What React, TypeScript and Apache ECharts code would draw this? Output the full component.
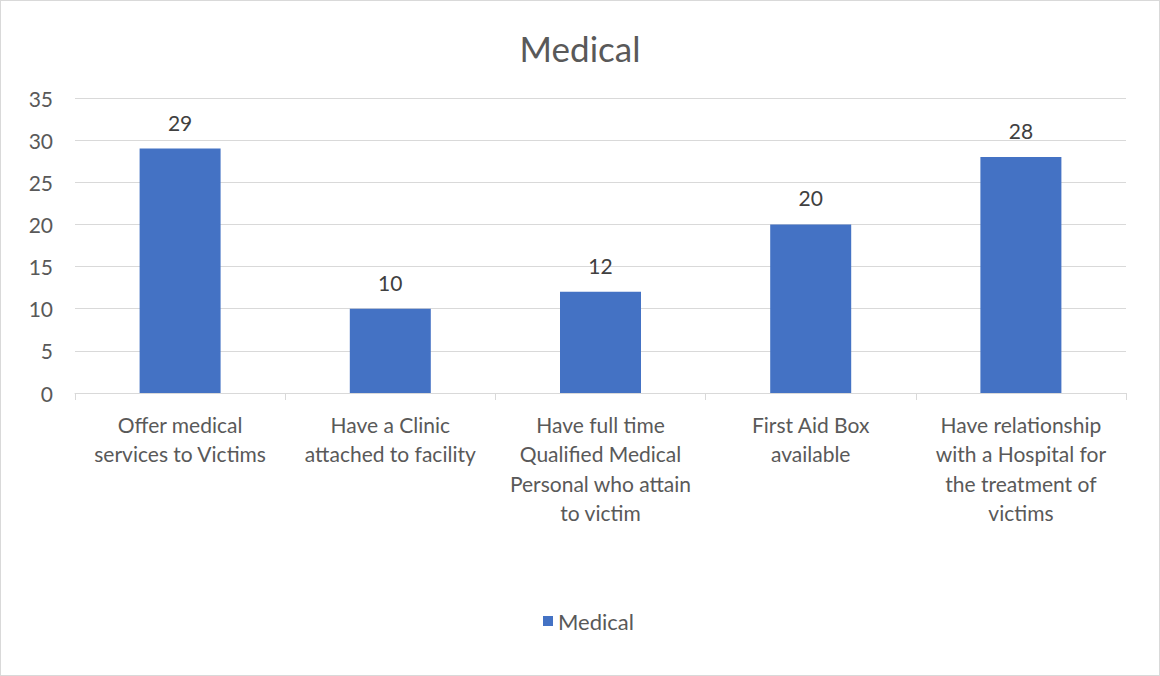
import React, { useEffect, useRef } from "react";
import * as echarts from "echarts";

const categories = [
  "Offer medical\nservices to Victims",
  "Have a Clinic\nattached to facility",
  "Have full time\nQualified Medical\nPersonal who attain\nto victim",
  "First Aid Box\navailable",
  "Have relationship\nwith a Hospital for\nthe treatment of\nvictims",
];
const medicalValues = [29, 10, 12, 20, 28];
const seriesName = "Medical";
const chartTitle = "Medical";

const FONT = "Lato, 'Open Sans', sans-serif";
const TEXT = "#595959";

export default function App() {
  const ref = useRef<HTMLDivElement>(null);

  useEffect(() => {
    document.body.style.margin = "0";
    if (!ref.current) return;
    const chart = echarts.init(ref.current, undefined, { renderer: "svg" });
    chart.setOption({
      animation: false,
      backgroundColor: "#ffffff",
      title: {
        text: chartTitle,
        left: "center",
        top: 24,
        textStyle: { fontFamily: FONT, fontSize: 35, fontWeight: "normal", color: TEXT },
      },
      legend: {
        data: [seriesName],
        bottom: 38,
        left: 537,
        icon: "rect",
        itemWidth: 10,
        itemHeight: 10,
        itemGap: 9,
        textStyle: { fontFamily: FONT, fontSize: 22, color: TEXT },
      },
      grid: { left: 74, right: 33, top: 97, bottom: 282, containLabel: false },
      xAxis: {
        type: "category",
        data: categories,
        axisLine: { lineStyle: { color: "#d9d9d9", width: 1 } },
        axisTick: { show: true, length: 7, lineStyle: { color: "#d9d9d9" } },
        axisLabel: {
          interval: 0,
          margin: 17,
          fontFamily: FONT,
          fontSize: 21,
          lineHeight: 29.3,
          color: TEXT,
        },
      },
      yAxis: {
        type: "value",
        min: 0,
        max: 35,
        interval: 5,
        axisLine: { show: false },
        axisTick: { show: false },
        splitLine: { lineStyle: { color: "#d9d9d9", width: 1 } },
        axisLabel: { fontFamily: FONT, fontSize: 21, color: TEXT, margin: 22 },
      },
      series: [
        {
          name: seriesName,
          type: "bar",
          data: medicalValues,
          barWidth: 81,
          itemStyle: { color: "#4472c4" },
          label: {
            show: true,
            position: "top",
            distance: 16,
            fontFamily: FONT,
            fontSize: 21,
            color: "#404040",
          },
        },
      ],
    });
    return () => chart.dispose();
  }, []);

  return (
    <div
      style={{
        position: "absolute",
        left: 0,
        top: 0,
        width: 1160,
        height: 676,
        boxSizing: "border-box",
        border: "1px solid #d9d9d9",
        background: "#fff",
      }}
    >
      <div ref={ref} style={{ width: 1158, height: 674 }} />
    </div>
  );
}
